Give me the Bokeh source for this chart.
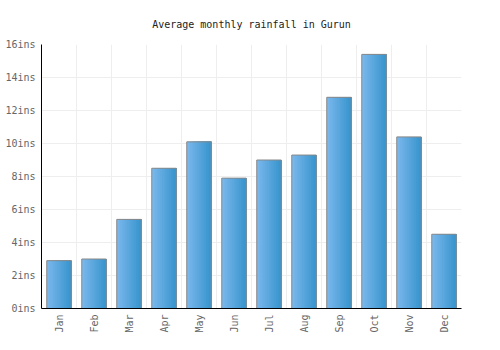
import numpy as np
from bokeh.plotting import figure
from bokeh.models import FixedTicker, PrintfTickFormatter, Range1d, ColumnDataSource
from bokeh.transform import dodge
from bokeh.embed import file_html
from bokeh.resources import INLINE

months = ["Jan", "Feb", "Mar", "Apr", "May", "Jun", "Jul", "Aug", "Sep", "Oct", "Nov", "Dec"]
rainfall = [2.9, 3.0, 5.4, 8.5, 10.1, 7.9, 9.0, 9.3, 12.8, 15.4, 10.4, 4.5]
y_ticks = [0, 2, 4, 6, 8, 10, 12, 14, 16]
title_text = "Average monthly rainfall in Gurun"

FONT = "DejaVu Sans Mono"
BAR_W = 0.7
N_STRIPS = 14
c_left = np.array([0x7a, 0xb8, 0xec])
c_right = np.array([0x38, 0x95, 0xce])

xpos = [i + 0.5 for i in range(len(months))]

p = figure(width=500, height=350, output_backend="svg", toolbar_location=None,
           x_range=Range1d(0, 12), y_range=Range1d(0, 16),
           min_border_left=41, min_border_right=39, min_border_top=44, min_border_bottom=42)

p.title.text = title_text
p.title.align = "center"
p.title.text_font = FONT
p.title.text_font_size = "10px"
p.title.text_font_style = "normal"
p.title.text_color = "#222222"
p.title.offset = 0
p.title.standoff = 30

src = ColumnDataSource(dict(x=xpos, top=rainfall))
sw = BAR_W / N_STRIPS
for k in range(N_STRIPS):
    t = k / (N_STRIPS - 1)
    c = (c_left * (1 - t) + c_right * t).astype(int)
    col = "#%02x%02x%02x" % tuple(c)
    w = BAR_W - k * sw
    off = -BAR_W / 2 + k * sw + w / 2
    p.vbar(x=dodge("x", off, range=p.x_range), top="top", bottom=0, width=w,
           source=src, fill_color=col, line_color=None)
p.vbar(x="x", top="top", bottom=0, width=BAR_W, source=src,
       fill_color=None, line_color="#888888", line_width=1)

p.xaxis.ticker = FixedTicker(ticks=xpos)
p.xaxis.major_label_overrides = {x: m for x, m in zip(xpos, months)}
p.xaxis.major_label_orientation = np.pi / 2
p.yaxis.ticker = FixedTicker(ticks=y_ticks)
p.yaxis.formatter = PrintfTickFormatter(format="%dins")

for ax in (p.xaxis[0], p.yaxis[0]):
    ax.major_tick_line_color = None
    ax.minor_tick_line_color = None
    ax.major_tick_in = 0
    ax.major_tick_out = 0
    ax.minor_tick_in = 0
    ax.minor_tick_out = 0
    ax.axis_line_color = "#000000"
    ax.axis_line_width = 1
    ax.major_label_text_font = FONT
    ax.major_label_text_font_size = "10px"
    ax.major_label_text_color = "#666666"
    ax.major_label_standoff = 6

p.xgrid.ticker = FixedTicker(ticks=list(range(13)))
p.xgrid.grid_line_color = "#eeeeee"
p.ygrid.grid_line_color = "#eeeeee"
p.outline_line_color = None

open("out.html", "w").write(file_html(p, INLINE))
